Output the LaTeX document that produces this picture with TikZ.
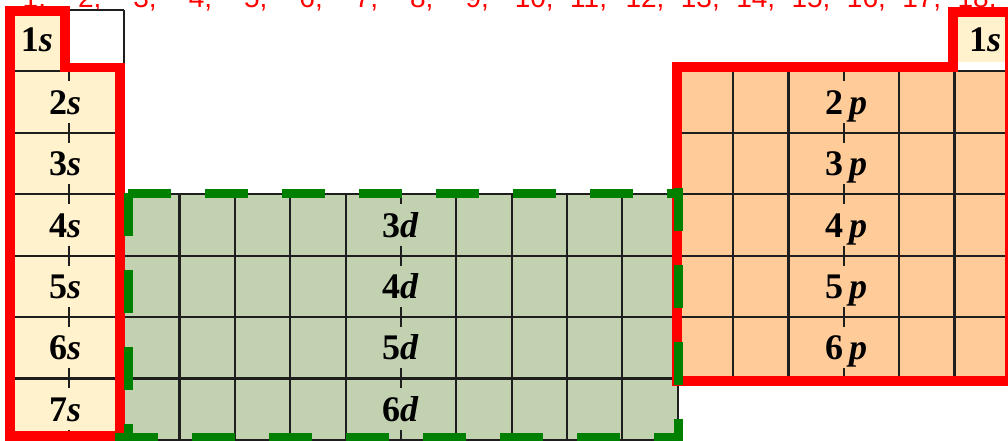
\documentclass[tikz,border=0pt]{standalone}
\usepackage{fontspec}
\setmainfont{Liberation Serif}
\newfontfamily\numfont{Liberation Sans}
\definecolor{sfill}{HTML}{FFF2CC}
\definecolor{dfill}{HTML}{C2D1B0}
\definecolor{pfill}{HTML}{FFCC99}
\definecolor{gridcol}{HTML}{1E1E1E}
\definecolor{dgreen}{HTML}{008000}
\begin{document}
\begin{tikzpicture}[x=1pt,y=-1pt,
  gridline/.style={line width=2.2pt, draw=gridcol},
  ticks/.style={line width=2.2pt, draw=gridcol},
  lbl/.style={font=\fontsize{36}{36}\selectfont\bfseries, inner sep=0pt, anchor=base west},
  lblc/.style={font=\fontsize{36}{36}\selectfont\bfseries, inner sep=0pt, anchor=base},
  num/.style={font=\numfont\fontsize{28}{28}\selectfont, text=red, inner sep=0pt, anchor=base west},
  redbox/.style={draw=red, line width=9.5pt, miter limit=10},
  greenline/.style={draw=dgreen, line width=9pt, dash pattern=on 43pt off 34pt}]
\useasboundingbox (0,0) rectangle (1008,441);
% fills
\fill[white] (0,0) rectangle (1008,441);
\fill[sfill] (13.5,71.4) rectangle (124.2,439.8);
\fill[sfill] (13.5,10) rectangle (68.85,71.4);
\fill[sfill] (954.45,10) rectangle (1009.8,62);
\fill[dfill] (124.2,194.2) rectangle (677.7,439.8);
\fill[pfill] (677.7,71.4) rectangle (1009.8,378.4);
% top numbers
\foreach \k in {1,...,9}
  \node[num] (n\k) at ({13.5+(\k-1)*55.35+9},7.5) {\k,};
\foreach \k in {10,...,18}
  \node[num] (n\k) at ({13.5+(\k-1)*55.35+3},7.5) {\k,};
% grid: horizontal lines
\draw[gridline] (13.5,10) -- (124.2,10);
\draw[gridline] (954.45,10) -- (1009.8,10);
\foreach \y in {71.4,132.8} {
  \draw[gridline] (13.5,\y) -- (124.2,\y);
  \draw[gridline] (677.7,\y) -- (1009.8,\y);
}
\draw[gridline] (954.45,71.4) -- (1009.8,71.4);
\foreach \y in {194.2,255.6,317,378.4}
  \draw[gridline] (13.5,\y) -- (1009.8,\y);
\draw[gridline] (13.5,439.8) -- (677.7,439.8);
% grid: vertical lines
\draw[gridline] (13.5,10) -- (13.5,439.8);
\draw[gridline] (68.85,10) -- (68.85,71.4);
\draw[gridline] (124.2,10) -- (124.2,439.8);
\foreach \x in {179.55,234.9,290.25,345.6,456.3,511.65,567,622.35}
  \draw[gridline] (\x,194.2) -- (\x,439.8);
\draw[gridline] (677.7,71.4) -- (677.7,439.8);
\foreach \x in {733.05,788.4,899.1,954.45}
  \draw[gridline] (\x,71.4) -- (\x,378.4);
\draw[gridline] (954.45,10) -- (954.45,71.4);
\draw[gridline] (1009.8,10) -- (1009.8,378.4);
% ticks on hidden middle lines
\draw[ticks] (68.85,71.4) -- (68.85,81.4);
\foreach \y in {132.8,194.2,255.6,317,378.4}
  \draw[ticks] (68.85,\y-10) -- (68.85,\y+10);
\draw[ticks] (68.85,429.8) -- (68.85,439.8);
\draw[ticks] (400.95,194.2) -- (400.95,204.2);
\foreach \y in {255.6,317,378.4}
  \draw[ticks] (400.95,\y-10) -- (400.95,\y+10);
\draw[ticks] (400.95,429.8) -- (400.95,439.8);
\draw[ticks] (843.75,71.4) -- (843.75,81.4);
\foreach \y in {132.8,194.2,255.6,317}
  \draw[ticks] (843.75,\y-10) -- (843.75,\y+10);
\draw[ticks] (843.75,368.4) -- (843.75,378.4);
% labels
\node[lblc] (h1) at (37,52) {1\textit{s}};
\node[lblc] (he1) at (985,52) {1\textit{s}};
\foreach \r/\y in {2/114.3,3/175.7,4/237.1,5/298.5,6/359.9,7/421.3}
  \node[lbl] (s\r) at (67,\y) {\llap{\r}\textit{s}};
\foreach \r/\y in {3/237.1,4/298.5,5/359.9,6/421.3}
  \node[lbl] (d\r) at (400,\y) {\llap{\r}\textit{d}};
\foreach \r/\y in {2/114.3,3/175.7,4/237.1,5/298.5,6/359.9}
  \node[lbl] (p\r) at (843,\y) {\llap{\r}\hspace{6pt}\textit{p}};
% red outlines
\draw[redbox] (10,11) -- (65,11) -- (65,67.5) -- (120,67.5) -- (120,436) -- (10,436) -- cycle;
\draw[redbox] (677,67) -- (953,67) -- (953,12) -- (1010,12) -- (1010,381) -- (677,381) -- cycle;
% green dashed outline of the d block
\draw[greenline] (128,193) -- (678,193);
\draw[greenline] (128,193) -- (128,441);
\draw[greenline] (678,188) -- (678,441);
\draw[greenline] (115,437) -- (678,437);
\end{tikzpicture}
\end{document}
